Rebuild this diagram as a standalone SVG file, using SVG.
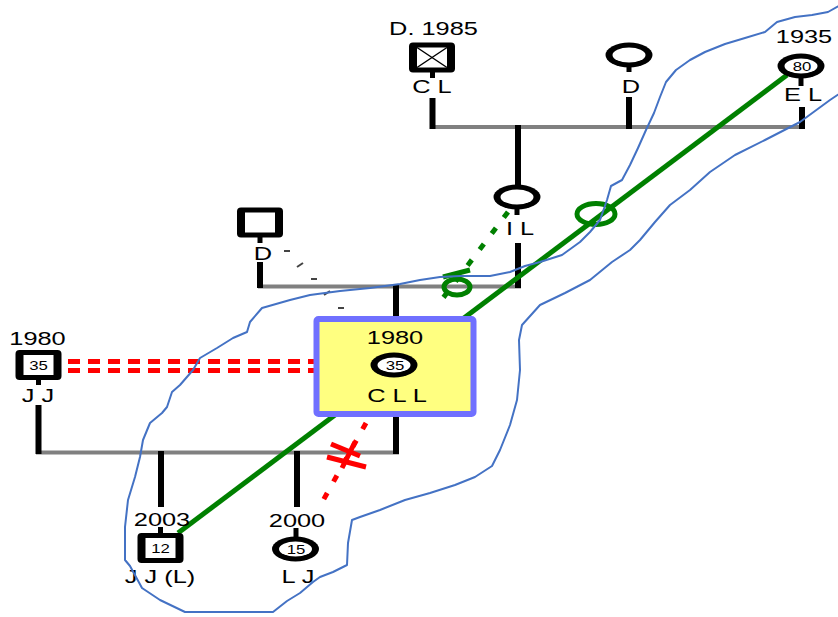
<svg xmlns="http://www.w3.org/2000/svg" width="838" height="617" viewBox="0 0 838 617">
  <style>
    .t { font-family: "Liberation Sans", Arial, sans-serif; font-size: 17.5px; fill: #000; text-anchor: middle; }
    .n { font-family: "Liberation Sans", Arial, sans-serif; font-size: 12px; fill: #000; text-anchor: middle; }
    .halo { paint-order: stroke; stroke: #fff; stroke-width: 3px; stroke-linejoin: round; }
    .line { stroke: #000; stroke-width: 6; fill: none; }
    .stem { stroke: #000; stroke-width: 5; fill: none; }
    .marriage { stroke: #808080; stroke-width: 4; fill: none; }
    .close { stroke: #008000; stroke-width: 5; fill: none; }
    .close-dot { stroke: #008000; stroke-width: 5; fill: none; stroke-dasharray: 7 13; }
    .conflict { stroke: #ff0000; stroke-width: 5; fill: none; stroke-dasharray: 12 8; }
    .cut-dot { stroke: #ff0000; stroke-width: 5; fill: none; stroke-dasharray: 7 13; }
    .lasso { stroke: #4472c4; stroke-width: 2; fill: none; stroke-linejoin: round; }
    .distant { stroke: #444; stroke-width: 2; fill: none; }
  </style>
  <defs>
    <g id="male">
      <rect x="-23" y="-15" width="46" height="30" rx="4" fill="#000"/>
      <rect x="-15" y="-10" width="30" height="20" fill="#fff"/>
    </g>
    <g id="female">
      <ellipse rx="23.5" ry="12.5" fill="#000"/>
      <ellipse rx="16.5" ry="7.5" fill="#fff"/>
    </g>
  </defs>

  <!-- relationship lines -->
  <g id="connectors">
    <!-- generation lines -->
    <line class="marriage" x1="430" y1="127" x2="805" y2="127"/>
    <line class="marriage" x1="258" y1="286.5" x2="521" y2="286.5"/>
    <line class="marriage" x1="36" y1="452.5" x2="399" y2="452.5"/>
    <line class="line" x1="432.5" y1="98" x2="432.5" y2="129"/>
    <line class="line" x1="629" y1="97" x2="629" y2="129"/>
    <line class="line" x1="802" y1="107" x2="802" y2="129"/>
    <line class="line" x1="518" y1="125" x2="518" y2="186"/>
    <line class="line" x1="518" y1="243" x2="518" y2="288"/>
    <line class="line" x1="260" y1="262" x2="260" y2="288"/>
    <line class="line" x1="396" y1="285" x2="396" y2="318"/>
    <line class="line" x1="396" y1="415" x2="396" y2="454"/>
    <line class="line" x1="38.5" y1="405" x2="38.5" y2="454"/>
    <line class="line" x1="161" y1="451" x2="161" y2="507"/>
    <line class="line" x1="297" y1="451" x2="297" y2="507"/>

    <!-- distant tie -->
    <line class="distant" x1="284" y1="251" x2="290" y2="251"/>
    <line class="distant" x1="297" y1="267" x2="303" y2="263"/>
    <line class="distant" x1="311" y1="279" x2="317" y2="279"/>
    <line class="distant" x1="324" y1="295" x2="330" y2="291"/>
    <line class="distant" x1="338" y1="308" x2="344" y2="308"/>

    <!-- conflict -->
    <line class="conflict" x1="68" y1="361.5" x2="316" y2="361.5"/>
    <line class="conflict" x1="68" y1="370.5" x2="316" y2="370.5"/>

    <!-- cut-off -->
    <line class="cut-dot" x1="366" y1="423" x2="320" y2="506"/>
    <line stroke="#ff0000" stroke-width="5" x1="355" y1="442" x2="342" y2="468"/>
    <line stroke="#ff0000" stroke-width="5" x1="331" y1="444" x2="360" y2="456"/>
    <line stroke="#ff0000" stroke-width="5" x1="327" y1="457" x2="366" y2="467"/>

    <!-- close -->
    <line class="close" x1="178" y1="533" x2="787" y2="75"/>
    <ellipse class="close" cx="596" cy="214" rx="19" ry="10.5" fill="#fff"/>

    <!-- close, dotted -->
    <line class="close-dot" x1="508" y1="212" x2="437" y2="306"/>
    <line stroke="#008000" stroke-width="5" x1="443" y1="277" x2="470" y2="270"/>
    <ellipse class="close" cx="457" cy="287" rx="13" ry="8" fill="none"/>
  </g>

  <!-- focus box -->
  <g id="node-cll">
    <rect x="316.5" y="319" width="157" height="95" rx="2" fill="#ffff80" stroke="#7070ff" stroke-width="6"/>
    <text class="t" transform="translate(395,344) scale(1.45,1)">1980</text>
    <use href="#female" x="394" y="365"/>
    <text class="n" transform="translate(395,369.5) scale(1.4,1)">35</text>
    <text class="t" transform="translate(397,402) scale(1.45,1)">C L L</text>
  </g>

  <g id="node-cl">
    <text class="t" transform="translate(433.5,35) scale(1.45,1)">D. 1985</text>
    <use href="#male" x="432" y="57.5"/>
    <path d="M417,47.5 L447,67.5 M417,67.5 L447,47.5" stroke="#000" stroke-width="1.5"/>
    <line class="stem" x1="432.5" y1="72" x2="432.5" y2="78"/>
    <text class="t" transform="translate(432,93) scale(1.45,1)">C L</text>
  </g>

  <g id="node-d-top">
    <use href="#female" x="629" y="55"/>
    <line class="stem" x1="629" y1="66" x2="629" y2="72"/>
    <text class="t" transform="translate(631,93) scale(1.45,1)">D</text>
  </g>

  <g id="node-el">
    <text class="t" transform="translate(804,43) scale(1.45,1)">1935</text>
    <use href="#female" x="801" y="66"/>
    <text class="n" transform="translate(802,70.5) scale(1.4,1)">80</text>
    <line class="stem" x1="801" y1="77" x2="801" y2="86"/>
    <text class="t" transform="translate(803,101) scale(1.45,1)">E L</text>
  </g>

  <g id="node-il">
    <use href="#female" x="517" y="197"/>
    <line class="stem" x1="517" y1="208" x2="517" y2="215"/>
    <text class="t" transform="translate(520,235) scale(1.45,1)">I L</text>
  </g>

  <g id="node-d-mid">
    <use href="#male" x="260" y="222.5"/>
    <line class="stem" x1="260" y1="236" x2="260" y2="243"/>
    <text class="t" transform="translate(263,260) scale(1.45,1)">D</text>
  </g>

  <g id="node-jj">
    <text class="t" transform="translate(37.5,345) scale(1.45,1)">1980</text>
    <use href="#male" x="38.5" y="365"/>
    <text class="n" transform="translate(38.5,369.5) scale(1.4,1)">35</text>
    <line class="stem" x1="38.5" y1="379" x2="38.5" y2="385"/>
    <text class="t" transform="translate(38,402) scale(1.45,1)">J J</text>
  </g>

  <g id="node-jjl">
    <text class="t" transform="translate(162,526) scale(1.45,1)">2003</text>
    <line class="stem" x1="160.5" y1="527" x2="160.5" y2="534"/>
    <use href="#male" x="160.5" y="548"/>
    <text class="n" transform="translate(160.5,552.5) scale(1.4,1)">12</text>
    <text class="t halo" transform="translate(160,583) scale(1.45,1)">J J (L)</text>
  </g>

  <g id="node-lj">
    <text class="t" transform="translate(297,527) scale(1.45,1)">2000</text>
    <line class="stem" x1="296" y1="528" x2="296" y2="537"/>
    <use href="#female" x="295.5" y="549"/>
    <text class="n" transform="translate(296,553.5) scale(1.4,1)">15</text>
    <text class="t halo" transform="translate(298,583) scale(1.45,1)">L J</text>
  </g>

  <!-- hand-drawn grouping outline -->
  <path class="lasso" d="M842,4 L828,12 L812,15 L795,17 L777,22 L765,32 L745,38 L725,44 L705,52 L690,60 L676,70 L666,82 L660,97 L654,113 L646,130 L638,148 L630,165 L622,180 L611,186 L607,200 L600,220 L590,232 L580,242 L562,255 L540,262 L525,266 L510,272 L490,276 L460,276 L440,277 L420,280 L400,284 L370,288 L340,291 L310,295 L290,300 L262,308 L250,322 L247,332 L233,338 L217,348 L200,358 L193,370 L180,385 L172,392 L167,407 L162,413 L150,423 L143,440 L140,457 L135,477 L128,500 L125,527 L125,560 L130,566 L142,588 L160,600 L185,612 L273,612 L287,601 L300,593 L313,582 L320,577 L333,572 L347,565 L348,543 L352,520 L360,517 L380,510 L405,500 L430,493 L455,485 L475,477 L492,466 L500,450 L510,425 L517,400 L520,370 L519,340 L522,325 L540,305 L565,293 L590,280 L612,262 L630,250 L640,240 L655,222 L670,205 L690,190 L710,172 L735,155 L765,140 L800,122 L830,100 L845,90"/>
</svg>
